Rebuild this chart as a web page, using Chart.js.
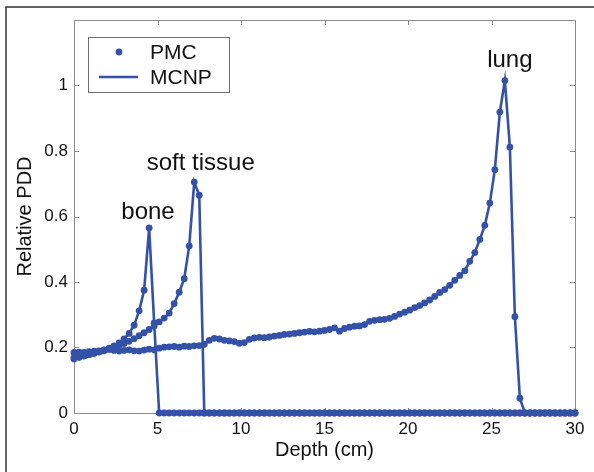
<!DOCTYPE html>
<html>
<head>
<meta charset="utf-8">
<script src="https://cdn.jsdelivr.net/npm/chart.js@4.4.1/dist/chart.umd.min.js"></script>
<style>
  html, body { margin: 0; padding: 0; background: #fff; }
  canvas { display: block; }
</style>
</head>
<body>
<canvas id="mygraph" width="594" height="472"></canvas>
<script>
// depth (cm), one value every 0.3 cm
const depth = [
  0, 0.3, 0.6, 0.9, 1.2, 1.5, 1.8, 2.1, 2.4, 2.7,
  3, 3.3, 3.6, 3.9, 4.2, 4.5, 4.8, 5.1, 5.4, 5.7,
  6, 6.3, 6.6, 6.9, 7.2, 7.5, 7.8, 8.1, 8.4, 8.7,
  9, 9.3, 9.6, 9.9, 10.2, 10.5, 10.8, 11.1, 11.4, 11.7,
  12, 12.3, 12.6, 12.9, 13.2, 13.5, 13.8, 14.1, 14.4, 14.7,
  15, 15.3, 15.6, 15.9, 16.2, 16.5, 16.8, 17.1, 17.4, 17.7,
  18, 18.3, 18.6, 18.9, 19.2, 19.5, 19.8, 20.1, 20.4, 20.7,
  21, 21.3, 21.6, 21.9, 22.2, 22.5, 22.8, 23.1, 23.4, 23.7,
  24, 24.3, 24.6, 24.9, 25.2, 25.5, 25.8, 26.1, 26.4, 26.7,
  27, 27.3, 27.6, 27.9, 28.2, 28.5, 28.8, 29.1, 29.4, 29.7,
  30
]

const bone = [
  0.165, 0.170, 0.174, 0.178, 0.183, 0.188, 0.193, 0.198, 0.205, 0.214,
  0.226, 0.243, 0.268, 0.312, 0.375, 0.565, 0.275, 0, 0, 0,
  0, 0, 0, 0, 0, 0, 0, 0, 0, 0,
  0, 0, 0, 0, 0, 0, 0, 0, 0, 0,
  0, 0, 0, 0, 0, 0, 0, 0, 0, 0,
  0, 0, 0, 0, 0, 0, 0, 0, 0, 0,
  0, 0, 0, 0, 0, 0, 0, 0, 0, 0,
  0, 0, 0, 0, 0, 0, 0, 0, 0, 0,
  0, 0, 0, 0, 0, 0, 0, 0, 0, 0,
  0, 0, 0, 0, 0, 0, 0, 0, 0, 0,
  0
]

const softTissue = [
  0.168, 0.171, 0.175, 0.178, 0.182, 0.186, 0.190, 0.195, 0.200, 0.206,
  0.212, 0.219, 0.227, 0.236, 0.245, 0.255, 0.266, 0.278, 0.290, 0.305,
  0.334, 0.369, 0.410, 0.510, 0.705, 0.665, 0, 0, 0, 0,
  0, 0, 0, 0, 0, 0, 0, 0, 0, 0,
  0, 0, 0, 0, 0, 0, 0, 0, 0, 0,
  0, 0, 0, 0, 0, 0, 0, 0, 0, 0,
  0, 0, 0, 0, 0, 0, 0, 0, 0, 0,
  0, 0, 0, 0, 0, 0, 0, 0, 0, 0,
  0, 0, 0, 0, 0, 0, 0, 0, 0, 0,
  0, 0, 0, 0, 0, 0, 0, 0, 0, 0,
  0
]

const lung = [
  0.185, 0.186, 0.185, 0.187, 0.189, 0.190, 0.192, 0.194, 0.191, 0.189,
  0.191, 0.193, 0.190, 0.189, 0.192, 0.195, 0.193, 0.198, 0.201, 0.202,
  0.203, 0.201, 0.204, 0.203, 0.205, 0.206, 0.210, 0.222, 0.228, 0.226,
  0.222, 0.220, 0.218, 0.213, 0.215, 0.225, 0.229, 0.231, 0.230, 0.232,
  0.235, 0.237, 0.240, 0.241, 0.243, 0.245, 0.247, 0.249, 0.248, 0.250,
  0.252, 0.255, 0.260, 0.250, 0.258, 0.262, 0.265, 0.266, 0.270, 0.280,
  0.283, 0.285, 0.286, 0.289, 0.295, 0.302, 0.308, 0.314, 0.322, 0.328,
  0.336, 0.345, 0.356, 0.368, 0.377, 0.390, 0.405, 0.420, 0.434, 0.463,
  0.490, 0.530, 0.573, 0.641, 0.743, 0.919, 1.015, 0.812, 0.294, 0.045,
  0, 0, 0, 0, 0, 0, 0, 0, 0, 0,
  0
]

const xTicks = [0, 5, 10, 15, 20, 25, 30]
const yTicks = [0, 0.2, 0.4, 0.6, 0.8, 1]

// peak labels, anchored in data units (text baseline, centred)
const peakLabels = ['bone', 'soft tissue', 'lung']
const peakLabelX = [4.43, 7.59, 26.1]
const peakLabelY = [0.591, 0.741, 1.055]

const blue = '#3451a8'
const fontFam = '"Liberation Sans", Arial, Helvetica, sans-serif'

let toPoints = vals => depth.map((d, i) => ({ x: d, y: vals[i] }))

let datasets = []
;[bone, softTissue, lung].forEach(vals => {
  datasets.push({
    label: 'MCNP',
    data: toPoints(vals),
    showLine: true,
    borderColor: blue,
    borderWidth: 2.6,
    pointRadius: 0,
    clip: false
  })
  datasets.push({
    label: 'PMC',
    data: toPoints(vals),
    showLine: false,
    pointRadius: 3.4,
    pointBackgroundColor: blue,
    pointBorderWidth: 0,
    clip: false
  })
})

// box, inward ticks, figure frame, legend and peak labels
const matlabLook = {
  id: 'matlabLook',
  beforeDatasetsDraw(chart) {
    const { ctx, chartArea: a, scales } = chart
    ctx.save()
    // figure frame (left + top)
    ctx.strokeStyle = '#333'
    ctx.lineWidth = 1.5
    ctx.beginPath()
    ctx.moveTo(6, chart.height)
    ctx.lineTo(6, 7)
    ctx.lineTo(chart.width, 7)
    ctx.stroke()

    ctx.strokeStyle = '#8c8c8c'
    ctx.lineWidth = 1
    ctx.strokeRect(a.left + 0.5, a.top + 0.5, a.right - a.left, a.bottom - a.top)
    ctx.beginPath()
    scales.x.ticks.forEach(t => {
      const px = Math.round(scales.x.getPixelForValue(t.value)) + 0.5
      ctx.moveTo(px, a.bottom); ctx.lineTo(px, a.bottom - 5)
      ctx.moveTo(px, a.top); ctx.lineTo(px, a.top + 5)
    })
    scales.y.ticks.forEach(t => {
      const py = Math.round(scales.y.getPixelForValue(t.value)) + 0.5
      ctx.moveTo(a.left, py); ctx.lineTo(a.left + 5, py)
      ctx.moveTo(a.right, py); ctx.lineTo(a.right - 5, py)
    })
    ctx.stroke()
    ctx.restore()
  },
  afterDraw(chart) {
    const { ctx, chartArea: a, scales } = chart
    ctx.save()
    // legend
    const lx = a.left + 14, ly = a.top + 17
    ctx.fillStyle = '#fff'
    ctx.fillRect(lx, ly, 141, 55)
    ctx.strokeStyle = '#6e6e6e'
    ctx.lineWidth = 1
    ctx.strokeRect(lx + 0.5, ly + 0.5, 141, 55)
    ctx.fillStyle = blue
    ctx.beginPath()
    ctx.arc(lx + 31, ly + 15, 3.4, 0, Math.PI * 2)
    ctx.fill()
    ctx.strokeStyle = blue
    ctx.lineWidth = 2.6
    ctx.beginPath()
    ctx.moveTo(lx + 11, ly + 40); ctx.lineTo(lx + 50, ly + 40)
    ctx.stroke()
    ctx.fillStyle = '#111'
    ctx.font = '21px ' + fontFam
    ctx.textBaseline = 'middle'
    ctx.textAlign = 'left'
    ctx.fillText('PMC', lx + 62, ly + 16)
    ctx.fillText('MCNP', lx + 62, ly + 41)

    // peak labels
    ctx.font = '24px ' + fontFam
    ctx.textAlign = 'center'
    ctx.textBaseline = 'alphabetic'
    peakLabels.forEach((txt, i) => {
      ctx.fillText(txt, scales.x.getPixelForValue(peakLabelX[i]), scales.y.getPixelForValue(peakLabelY[i]))
    })
    ctx.restore()
  }
}

const ctx = document.getElementById('mygraph').getContext('2d')
new Chart(ctx, {
  type: 'scatter',
  data: { datasets },
  options: {
    responsive: false,
    animation: false,
    events: [],
    layout: { padding: { left: 12, top: 20, right: 19, bottom: 0 } },
    scales: {
      x: {
        type: 'linear',
        min: 0,
        max: 30,
        afterBuildTicks: s => { s.ticks = xTicks.map(v => ({ value: v })) },
        afterFit: s => { s.height = 59 },
        grid: { display: false, drawTicks: false },
        border: { display: false },
        ticks: { padding: 6, color: '#111', font: { family: fontFam, size: 17 } },
        title: {
          display: true,
          text: 'Depth (cm)',
          color: '#111',
          font: { family: fontFam, size: 20 },
          padding: { top: 0, bottom: 10 }
        }
      },
      y: {
        type: 'linear',
        min: 0,
        max: 1.2,
        afterBuildTicks: s => { s.ticks = yTicks.map(v => ({ value: v })) },
        afterFit: s => { s.width = 62 },
        grid: { display: false, drawTicks: false },
        border: { display: false },
        ticks: {
          padding: 6,
          color: '#111',
          font: { family: fontFam, size: 17 },
          callback: v => String(+v.toFixed(2))
        },
        title: {
          display: true,
          text: 'Relative PDD',
          color: '#111',
          font: { family: fontFam, size: 20 },
          padding: { top: 1, bottom: 0 }
        }
      }
    },
    plugins: {
      legend: { display: false },
      tooltip: { enabled: false }
    }
  },
  plugins: [matlabLook]
})
</script>
</body>
</html>
